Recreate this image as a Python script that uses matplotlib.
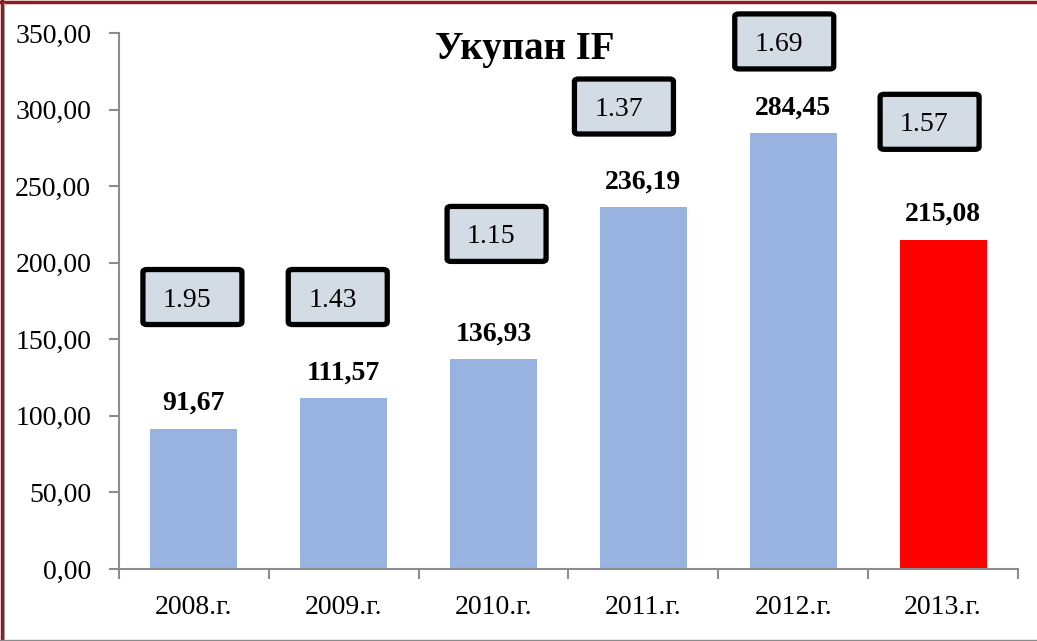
import matplotlib
matplotlib.use("Agg")
import matplotlib.pyplot as plt
from matplotlib.patches import FancyBboxPatch
from matplotlib.lines import Line2D

categories = ["2008.г.", "2009.г.", "2010.г.", "2011.г.", "2012.г.", "2013.г."]
values = [91.67, 111.57, 136.93, 236.19, 284.45, 215.08]
value_labels = ["91,67", "111,57", "136,93", "236,19", "284,45", "215,08"]
if_values = ["1.95", "1.43", "1.15", "1.37", "1.69", "1.57"]
yticks = [0, 50, 100, 150, 200, 250, 300, 350]
ytick_labels = ["0,00", "50,00", "100,00", "150,00", "200,00", "250,00", "300,00", "350,00"]
title = "Укупан IF"

# layout of the IF boxes (data coords of box centre)
box_dx = [-0.01, -0.04, 0.02, -0.13, -0.06, -0.09]
box_y = [177.6, 177.6, 218.8, 302.0, 344.5, 292.0]

plt.rcParams['font.family'] = ['Liberation Serif', 'DejaVu Serif']

W, H = 1037, 641
fig = plt.figure(figsize=(W / 100, H / 100), dpi=100)
ax = fig.add_axes([119 / W, 1 - 569 / H, (1018 - 119) / W, (569 - 33) / H])

colors = ["#98B3E0"] * 5 + ["#FF0000"]
x = list(range(len(categories)))
ax.bar(x, values, width=0.58, color=colors, zorder=2)

ax.set_xlim(-0.5, len(categories) - 0.5)
ax.set_ylim(0, 350)
ax.set_yticks(yticks)
ax.set_yticklabels(ytick_labels, fontsize=20)
ax.set_xticks(x)
ax.set_xticklabels(categories, fontsize=20)
ax.set_xticks([i - 0.5 for i in range(len(categories) + 1)], minor=True)
ax.tick_params(axis='x', which='major', length=0, pad=19)
ax.tick_params(axis='x', which='minor', length=7, width=1.5, color='#8C8C8C', direction='out')
ax.tick_params(axis='y', length=7, width=1.5, color='#8C8C8C', direction='out', pad=13)
for s in ['top', 'right']:
    ax.spines[s].set_visible(False)
for s in ['left', 'bottom']:
    ax.spines[s].set_color('#8C8C8C')
    ax.spines[s].set_linewidth(1.5)

for i, (v, lab) in enumerate(zip(values, value_labels)):
    ax.annotate(lab, (i, v), xytext=(0, 9), textcoords='offset points',
                ha='center', va='bottom', fontsize=20, fontweight='bold')

fig.text(525 / W, 1 - 50 / H, title, ha='center', va='center', fontsize=28, fontweight='bold')

# IF boxes
inv = fig.transFigure.inverted()
bw, bh = 99, 55
for i, (t, dx, y) in enumerate(zip(if_values, box_dx, box_y)):
    cx, cy = ax.transData.transform((i + dx, y))
    x0, y0 = inv.transform((cx - bw / 2, cy - bh / 2))
    x1, y1 = inv.transform((cx + bw / 2, cy + bh / 2))
    p = FancyBboxPatch((x0, y0), x1 - x0, y1 - y0, transform=fig.transFigure,
                       boxstyle='round,pad=0,rounding_size=0.004',
                       fc='#D3DCE4', ec='black', lw=3.8, zorder=5)
    fig.patches.append(p)
    tx, ty = inv.transform((cx - bw / 2 + 20, cy - 3))
    fig.text(tx, ty, t, ha='left', va='center', fontsize=20, zorder=6)

# slide frame
fig.add_artist(Line2D([0, 1], [1 - 1.5 / H, 1 - 1.5 / H], color='#8E1B1F', lw=2.5, transform=fig.transFigure))
fig.add_artist(Line2D([1.5 / W, 1.5 / W], [0, 1], color='#8E1B1F', lw=2.5, transform=fig.transFigure))
fig.add_artist(Line2D([4 / W, 4 / W], [0, 1 - 3 / H], color='#A0A0A0', lw=0.8, transform=fig.transFigure))
fig.add_artist(Line2D([0, 1], [1 - 639.5 / H, 1 - 639.5 / H], color='#8C8C8C', lw=1.0, transform=fig.transFigure))

fig.savefig("out.png", dpi=100)
